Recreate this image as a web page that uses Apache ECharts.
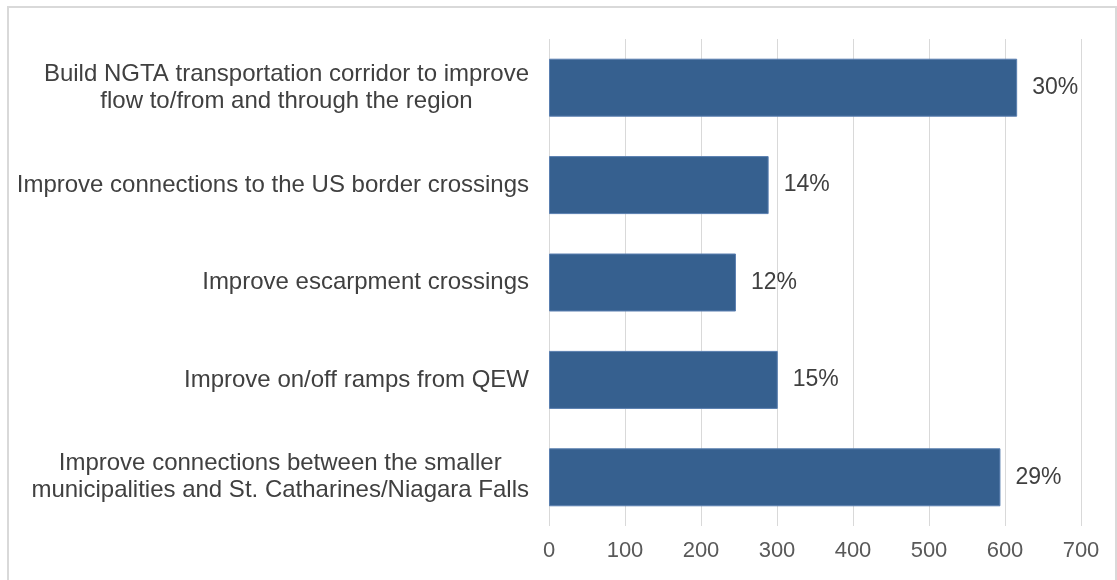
<!DOCTYPE html>
<html>
<head>
<meta charset="utf-8">
<script src="https://cdn.jsdelivr.net/npm/echarts@6/dist/echarts.min.js"></script>
<style>
html,body{margin:0;padding:0;background:#fff;}
#frame{position:absolute;left:7px;top:6px;width:1110px;height:600px;border:2px solid #d9d9d9;box-sizing:border-box;}
#chart{position:absolute;left:0;top:0;width:1117px;height:580px;}
</style>
</head>
<body>
<div id="frame"></div>
<div id="chart"></div>
<script>
var categories = [
  "Build NGTA transportation corridor to improve\nflow to/from and through the region",
  "Improve connections to the US border crossings",
  "Improve escarpment crossings",
  "Improve on/off ramps from QEW",
  "Improve connections between the smaller\nmunicipalities and St. Catharines/Niagara Falls"
];
var values = [616, 289, 246, 301, 594];
var percentLabels = ["30%", "14%", "12%", "15%", "29%"];
var xTicks = [0, 100, 200, 300, 400, 500, 600, 700];

var chart = echarts.init(document.getElementById('chart'), null, {renderer: 'canvas'});
var font = '"Liberation Sans", Arial, sans-serif';
chart.setOption({
  animation: false,
  backgroundColor: 'transparent',
  grid: {left: 549, right: 36, top: 39, bottom: 54, containLabel: false},
  xAxis: {
    type: 'value', min: 0, max: 700, interval: 100,
    axisLine: {show: false}, axisTick: {show: false},
    splitLine: {show: true, lineStyle: {color: '#d9d9d9', width: 1}},
    axisLabel: {
      color: '#595959', fontSize: 22, fontFamily: font, margin: 14,
      formatter: function (v) { return xTicks.indexOf(v) >= 0 ? String(v) : ''; }
    }
  },
  yAxis: {
    type: 'category', inverse: true, data: categories,
    axisLine: {show: false}, axisTick: {show: false},
    axisLabel: {
      margin: 20, align: 'right',
      formatter: function (v) {
        return v.split('\n').map(function (l) { return '{c|' + l + '}'; }).join('\n');
      },
      rich: {c: {color: '#404040', fontSize: 24, fontFamily: font, lineHeight: 27, align: 'center'}}
    }
  },
  series: [{
    type: 'bar', data: values, barWidth: 58,
    itemStyle: {color: '#36608f', borderColor: '#5a7fb0', borderWidth: 1},
    label: {
      show: true, position: 'right', distance: 15,
      color: '#404040', fontSize: 23, fontFamily: font,
      formatter: function (p) { return percentLabels[p.dataIndex]; }
    }
  }]
});
</script>
</body>
</html>
